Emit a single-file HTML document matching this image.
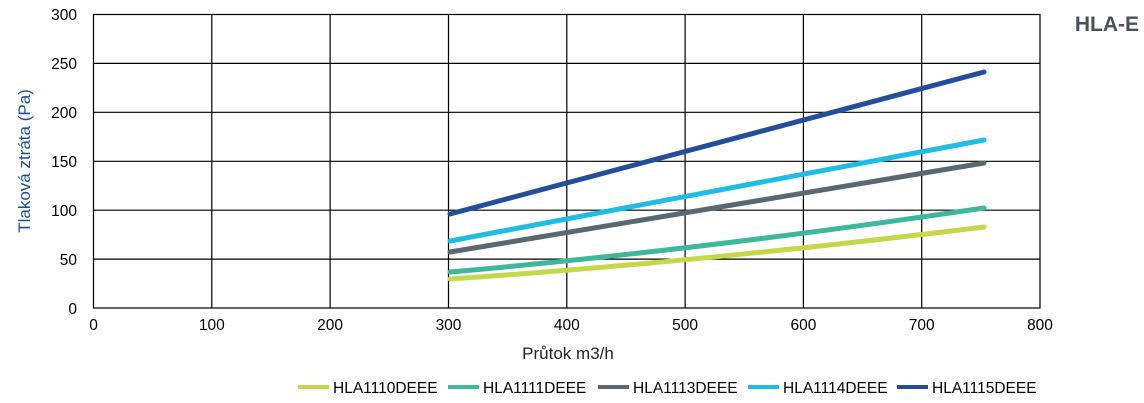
<!DOCTYPE html>
<html><head><meta charset="utf-8"><style>
body{margin:0;background:#fff;}
svg{display:block;font-family:"Liberation Sans",sans-serif;}
</style></head><body>
<svg width="1144" height="403" viewBox="0 0 1144 403">
<g stroke="#000" stroke-width="1.2" fill="none">
<rect x="93.5" y="14.5" width="946.5" height="293.5"/>
<path d="M211.8 14.5V308M330.1 14.5V308M448.5 14.5V308M566.8 14.5V308M685.1 14.5V308M803.4 14.5V308M921.7 14.5V308"/>
<path d="M93.5 63.4H1040M93.5 112.3H1040M93.5 161.3H1040M93.5 210.2H1040M93.5 259.1H1040"/>
</g>
<g font-size="15.5" fill="#000" text-anchor="end">
<text x="77" y="20">300</text><text x="77" y="69">250</text><text x="77" y="118">200</text>
<text x="77" y="167">150</text><text x="77" y="216">100</text><text x="77" y="265">50</text><text x="77" y="314">0</text>
</g>
<g font-size="15.5" fill="#000" text-anchor="middle">
<text x="93.5" y="330">0</text><text x="211.8" y="330">100</text><text x="330.1" y="330">200</text>
<text x="448.5" y="330">300</text><text x="566.8" y="330">400</text><text x="685.1" y="330">500</text>
<text x="803.4" y="330">600</text><text x="921.7" y="330">700</text><text x="1040" y="330">800</text>
</g>
<text x="568" y="359" font-size="17" text-anchor="middle" fill="#222">Průtok m3/h</text>
<text transform="translate(30,161) rotate(-90)" font-size="17" text-anchor="middle" fill="#1a4f9c">Tlaková ztráta (Pa)</text>
<text x="1139" y="31" font-size="21" font-weight="bold" text-anchor="end" fill="#4a5259">HLA-E</text>
<g fill="none" stroke-width="5" stroke-linecap="round">
<path d="M450 279 Q700 262 984 227" stroke="#c5d84a"/>
<path d="M450 272 Q700 250 984 208" stroke="#3db89a"/>
<path d="M450 252 L984 163" stroke="#5a6870"/>
<path d="M450 241 L984 140" stroke="#1ebde3"/>
<path d="M450 214 L984 72" stroke="#234e9a"/>
</g>
<g stroke-width="4">
<line x1="298" y1="387" x2="329" y2="387" stroke="#c5d84a"/>
<line x1="448" y1="387" x2="479" y2="387" stroke="#3db89a"/>
<line x1="598" y1="387" x2="629" y2="387" stroke="#5a6870"/>
<line x1="748" y1="387" x2="779" y2="387" stroke="#1ebde3"/>
<line x1="897" y1="387" x2="928" y2="387" stroke="#234e9a"/>
</g>
<g font-size="15.5" fill="#000">
<text x="333" y="393">HLA1110DEEE</text><text x="483" y="393">HLA1111DEEE</text>
<text x="633" y="393">HLA1113DEEE</text><text x="783" y="393">HLA1114DEEE</text>
<text x="932" y="393">HLA1115DEEE</text>
</g>
</svg>
</body></html>
